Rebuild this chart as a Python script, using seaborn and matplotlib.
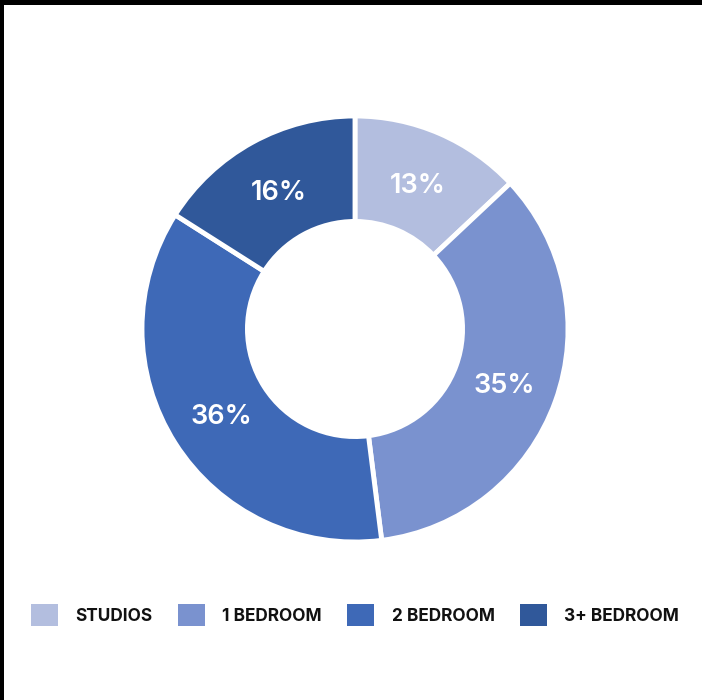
import matplotlib
matplotlib.use("Agg")
import matplotlib.pyplot as plt
from matplotlib.patches import Rectangle, Patch
import numpy as np
import seaborn as sns

# ----- Data -----
categories = ["STUDIOS", "1 BEDROOM", "2 BEDROOM", "3+ BEDROOM"]
shares = [13, 35, 36, 16]
colors = ["#b3bedf", "#7a92cf", "#3e69b7", "#30589a"]

sns.set_theme(style="white")
plt.rcParams['font.family'] = ['Inter', 'DejaVu Sans']

fig = plt.figure(figsize=(7.02, 7.00), dpi=100)
fig.patch.set_facecolor("white")

# pie axes: centre (355, 329) px, radius ~213 px
cx, cy, r = 355, 329, 213
ax = fig.add_axes([(cx - r) / 702, (700 - cy - r) / 700, 2 * r / 702, 2 * r / 700])

wedges, texts = ax.pie(
    shares,
    colors=sns.color_palette(colors),
    startangle=90,
    counterclock=False,
    radius=1,
    wedgeprops=dict(width=0.495, edgecolor="white", linewidth=3.5),
)
ax.set_aspect("equal")
ax.set_xlim(-1, 1)
ax.set_ylim(-1, 1)
ax.axis("off")

# percent labels in the middle of the ring
total = sum(shares)
start = 90
for val in shares:
    ang = np.deg2rad(start - val / total * 360 / 2)
    ax.text(0.745 * np.cos(ang), 0.745 * np.sin(ang), "%d%%" % val,
            ha="center", va="center_baseline", color="white", fontsize=19.5, fontweight="semibold")
    start -= val / total * 360

# legend
handles = [Patch(facecolor=c, edgecolor="none") for c in colors]
leg = fig.legend(handles, categories, loc="center", bbox_to_anchor=(355 / 702, 1 - 615 / 700),
                 ncol=4, frameon=False, handlelength=1.6, handleheight=1.6,
                 handletextpad=1.0, columnspacing=1.45, prop=dict(weight="bold", size=12.4))
for t in leg.get_texts():
    t.set_color("#111111")

# black frame on top and left edges
fig.patches.append(Rectangle((0, 1 - 5 / 700), 1, 5 / 700, transform=fig.transFigure,
                             facecolor="black", edgecolor="none", zorder=10))
fig.patches.append(Rectangle((0, 0), 4 / 702, 1, transform=fig.transFigure,
                             facecolor="black", edgecolor="none", zorder=10))

fig.savefig("out.png", dpi=100, facecolor="white")
